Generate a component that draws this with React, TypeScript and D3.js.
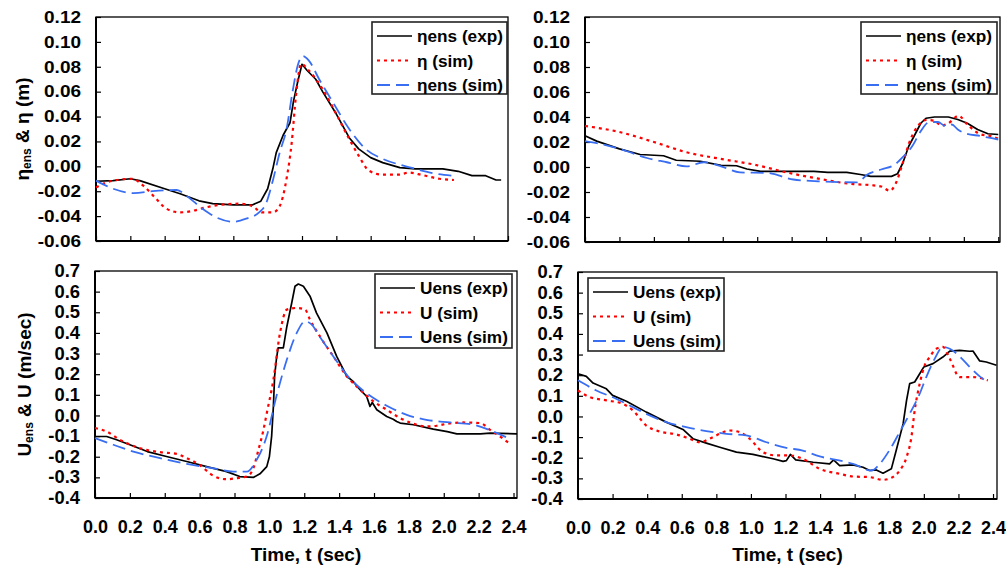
import React, { useEffect, useRef } from "react";
import * as d3 from "d3";

// time (sec), value pairs
const etaExpA: [number, number][] = [
  [0, -0.012], [0.1, -0.0115], [0.2, -0.01], [0.255, -0.0115], [0.4, -0.018], [0.49, -0.022],
  [0.6, -0.0277], [0.68, -0.03], [0.8, -0.031], [0.91, -0.031], [0.96, -0.028], [1.0, -0.018],
  [1.03, -0.002], [1.05, 0.011], [1.09, 0.025], [1.13, 0.035], [1.15, 0.052], [1.175, 0.068],
  [1.2, 0.082], [1.23, 0.077], [1.28, 0.07], [1.32, 0.06], [1.4, 0.042], [1.475, 0.023],
  [1.53, 0.014], [1.6, 0.007], [1.67, 0.003], [1.77, -0.001], [1.86, -0.002], [2.02, -0.002],
  [2.11, -0.004], [2.19, -0.0075], [2.27, -0.0075], [2.33, -0.011], [2.36, -0.011],
];
const etaSimA: [number, number][] = [
  [0, -0.017], [0.06, -0.013], [0.12, -0.011], [0.21, -0.01], [0.275, -0.0155], [0.35, -0.026],
  [0.41, -0.034], [0.49, -0.037], [0.565, -0.0357], [0.64, -0.033], [0.72, -0.031], [0.84, -0.03],
  [0.91, -0.032], [0.97, -0.037], [1.03, -0.037], [1.07, -0.032], [1.11, -0.01], [1.14, 0.019],
  [1.165, 0.057], [1.195, 0.0824], [1.24, 0.077], [1.32, 0.062], [1.4, 0.042], [1.475, 0.022],
  [1.53, 0.0086], [1.59, -0.0035], [1.67, -0.0067], [1.77, -0.0067], [1.82, -0.005], [1.9, -0.007],
  [2.0, -0.01], [2.085, -0.011],
];
const etaEnsSimA: [number, number][] = [
  [0, -0.0115], [0.1, -0.018], [0.22, -0.0215], [0.33, -0.02], [0.47, -0.019], [0.53, -0.024],
  [0.62, -0.034], [0.7, -0.041], [0.8, -0.0445], [0.875, -0.042], [0.95, -0.037], [0.99, -0.03],
  [1.03, -0.0115], [1.07, 0.011], [1.11, 0.03], [1.145, 0.06], [1.175, 0.081], [1.205, 0.0886],
  [1.24, 0.085], [1.3, 0.07], [1.38, 0.0515], [1.475, 0.03], [1.57, 0.014], [1.67, 0.006],
  [1.77, 0.0013], [1.86, -0.002], [1.96, -0.0054], [2.075, -0.0075],
];

const etaExpB: [number, number][] = [
  [0, 0.025], [0.068, 0.0207], [0.2, 0.0145], [0.32, 0.01], [0.456, 0.009], [0.53, 0.0054],
  [0.67, 0.0046], [0.79, 0.0013], [0.88, 0.001], [0.94, -0.0016], [1.02, -0.0035], [1.17, -0.0035],
  [1.33, -0.0035], [1.41, -0.0043], [1.52, -0.0043], [1.6, -0.006], [1.66, -0.0075], [1.78, -0.0075],
  [1.815, -0.0054], [1.845, 0.003], [1.88, 0.0166], [1.92, 0.027], [1.95, 0.035], [1.98, 0.039],
  [2.03, 0.04], [2.11, 0.04], [2.165, 0.038], [2.22, 0.035], [2.28, 0.03], [2.34, 0.0266], [2.4, 0.026],
];
const etaSimB: [number, number][] = [
  [0, 0.0328], [0.2, 0.028], [0.4, 0.02], [0.59, 0.0118], [0.81, 0.006], [0.98, 0.002],
  [1.17, -0.0043], [1.37, -0.0097], [1.56, -0.0137], [1.66, -0.0145], [1.72, -0.0156], [1.77, -0.019],
  [1.805, -0.013], [1.845, 0.003], [1.89, 0.022], [1.94, 0.034], [1.98, 0.0376], [2.03, 0.037],
  [2.07, 0.033], [2.11, 0.035], [2.17, 0.041], [2.22, 0.034], [2.3, 0.026], [2.36, 0.0247], [2.41, 0.022],
];
const etaEnsSimB: [number, number][] = [
  [0, 0.0207], [0.107, 0.018], [0.243, 0.0126], [0.36, 0.0072], [0.476, 0.0038], [0.59, 0.0005],
  [0.69, 0.0038], [0.79, 0.0005], [0.9, -0.0043], [1.06, -0.0048], [1.21, -0.01], [1.37, -0.0115],
  [1.58, -0.0123], [1.64, -0.006], [1.72, -0.002], [1.8, 0.002], [1.85, 0.0086], [1.9, 0.0166],
  [1.95, 0.0287], [2.0, 0.036], [2.05, 0.036], [2.09, 0.033], [2.13, 0.034], [2.165, 0.03],
  [2.2, 0.0274], [2.3, 0.0247], [2.4, 0.022],
];

const uExpA: [number, number][] = [
  [0, -0.102], [0.067, -0.102], [0.124, -0.118], [0.2, -0.142], [0.3, -0.175], [0.41, -0.199],
  [0.526, -0.223], [0.64, -0.248], [0.755, -0.272], [0.83, -0.296], [0.91, -0.3], [0.946, -0.283],
  [0.985, -0.248], [1.0, -0.2], [1.013, -0.1], [1.023, 0.044], [1.03, 0.19], [1.04, 0.27],
  [1.05, 0.327], [1.08, 0.327], [1.1, 0.43], [1.128, 0.545], [1.147, 0.626], [1.166, 0.637],
  [1.195, 0.626], [1.233, 0.578], [1.27, 0.497], [1.33, 0.4], [1.386, 0.286], [1.444, 0.19],
  [1.48, 0.165], [1.52, 0.125], [1.558, 0.092], [1.577, 0.044], [1.59, 0.063], [1.616, 0.0275],
  [1.673, -0.005], [1.71, -0.018], [1.73, -0.029], [1.75, -0.037], [1.826, -0.045], [1.94, -0.066],
  [2.02, -0.078], [2.075, -0.089], [2.21, -0.089], [2.266, -0.086], [2.42, -0.089],
];
const uSimA: [number, number][] = [
  [0, -0.061], [0.067, -0.078], [0.143, -0.118], [0.258, -0.159], [0.373, -0.178], [0.468, -0.186],
  [0.526, -0.207], [0.6, -0.24], [0.68, -0.293], [0.755, -0.309], [0.81, -0.304], [0.87, -0.296],
  [0.908, -0.256], [0.937, -0.167], [0.966, -0.07], [0.985, 0.011], [1.023, 0.173], [1.061, 0.4],
  [1.1, 0.513], [1.157, 0.521], [1.205, 0.513], [1.233, 0.464], [1.29, 0.383], [1.367, 0.286],
  [1.444, 0.19], [1.52, 0.125], [1.597, 0.068], [1.673, 0.0275], [1.75, -0.013], [1.826, -0.04],
  [1.9, -0.053], [1.96, -0.05], [2.02, -0.04], [2.113, -0.034], [2.21, -0.037], [2.266, -0.07],
  [2.323, -0.102], [2.37, -0.131],
];
const uEnsSimA: [number, number][] = [
  [0, -0.11], [0.105, -0.142], [0.22, -0.175], [0.373, -0.207], [0.526, -0.235], [0.68, -0.256],
  [0.793, -0.272], [0.87, -0.272], [0.927, -0.215], [0.985, -0.1], [1.04, 0.092], [1.1, 0.27],
  [1.157, 0.4], [1.205, 0.456], [1.243, 0.44], [1.29, 0.38], [1.367, 0.286], [1.444, 0.197],
  [1.52, 0.133], [1.597, 0.084], [1.673, 0.047], [1.788, 0.003], [1.9, -0.021], [2.036, -0.034],
  [2.17, -0.045], [2.285, -0.078], [2.37, -0.11],
];

const uExpB: [number, number][] = [
  [0, 0.207], [0.048, 0.194], [0.087, 0.162], [0.164, 0.134], [0.2, 0.102], [0.28, 0.074],
  [0.395, 0.021], [0.51, -0.0275], [0.607, -0.063], [0.665, -0.108], [0.742, -0.129], [0.82, -0.149],
  [0.916, -0.173], [1.012, -0.184], [1.128, -0.205], [1.186, -0.218], [1.205, -0.214], [1.228, -0.184],
  [1.259, -0.21], [1.36, -0.222], [1.455, -0.23], [1.478, -0.21], [1.513, -0.238], [1.59, -0.235],
  [1.648, -0.246], [1.687, -0.262], [1.725, -0.259], [1.764, -0.275], [1.812, -0.254], [1.84, -0.165],
  [1.88, -0.036], [1.9, 0.078], [1.918, 0.159], [1.947, 0.167], [1.976, 0.207], [2.0, 0.24],
  [2.053, 0.256], [2.11, 0.288], [2.15, 0.317], [2.207, 0.32], [2.265, 0.316], [2.284, 0.317],
  [2.323, 0.269], [2.361, 0.264], [2.42, 0.248],
];
const uSimB: [number, number][] = [
  [0, 0.126], [0.067, 0.094], [0.164, 0.078], [0.26, 0.061], [0.318, 0.029], [0.395, -0.044],
  [0.472, -0.073], [0.569, -0.087], [0.646, -0.108], [0.704, -0.125], [0.761, -0.108], [0.82, -0.084],
  [0.877, -0.068], [0.935, -0.076], [0.993, -0.108], [1.07, -0.173], [1.147, -0.189], [1.224, -0.189],
  [1.3, -0.205], [1.398, -0.254], [1.513, -0.278], [1.59, -0.291], [1.687, -0.294], [1.764, -0.307],
  [1.82, -0.294], [1.86, -0.262], [1.9, -0.197], [1.928, -0.1], [1.947, 0.029], [1.976, 0.159],
  [2.005, 0.248], [2.034, 0.288], [2.072, 0.328], [2.11, 0.337], [2.15, 0.28], [2.207, 0.191],
  [2.284, 0.191], [2.37, 0.175],
];
const uEnsSimB: [number, number][] = [
  [0, 0.175], [0.106, 0.126], [0.22, 0.086], [0.318, 0.045], [0.414, 0.005], [0.51, -0.0275],
  [0.626, -0.052], [0.742, -0.071], [0.858, -0.084], [0.973, -0.092], [1.09, -0.125], [1.205, -0.152],
  [1.3, -0.165], [1.398, -0.194], [1.494, -0.21], [1.59, -0.23], [1.697, -0.262], [1.745, -0.23],
  [1.8, -0.165], [1.86, -0.076], [1.918, 0.013], [1.976, 0.11], [2.014, 0.191], [2.063, 0.28],
  [2.11, 0.337], [2.15, 0.328], [2.207, 0.291], [2.265, 0.24], [2.323, 0.194], [2.37, 0.167],
];

const etaLabels = ["ηens (exp)", "η (sim)", "ηens (sim)"];
const uLabels = ["Uens (exp)", "U (sim)", "Uens (sim)"];
const etaTicks = [-0.06, -0.04, -0.02, 0, 0.02, 0.04, 0.06, 0.08, 0.1, 0.12];
const uTicks = [-0.4, -0.3, -0.2, -0.1, 0, 0.1, 0.2, 0.3, 0.4, 0.5, 0.6, 0.7];
const timeTicks = [0, 0.2, 0.4, 0.6, 0.8, 1.0, 1.2, 1.4, 1.6, 1.8, 2.0, 2.2, 2.4];

const FONT = "'Liberation Sans', Arial, Helvetica, sans-serif";
const styles = [
  { stroke: "#000", dash: "none", width: 1.7 },
  { stroke: "#ff0000", dash: "3,4", width: 2.2 },
  { stroke: "#3a6ef2", dash: "13,6", width: 1.8 },
];

function Panel(props: any) {
  const { left, right, top, bottom, xMax, yDomain, yTicks, yFmt, yFont, yStretch, series, labels, legend, showX, yTitle, yTitleX } = props;
  const xRef = useRef<SVGGElement>(null);
  const yRef = useRef<SVGGElement>(null);
  const x = d3.scaleLinear().domain([0, xMax]).range([left, right]);
  const y = d3.scaleLinear().domain(yDomain).range([bottom, top]);

  useEffect(() => {
    const xa = d3.axisBottom(x).tickValues(timeTicks).tickSizeInner(-5).tickSizeOuter(0).tickPadding(22)
      .tickFormat(showX ? (d: any) => d3.format(".1f")(d) : () => "");
    d3.select(xRef.current!).call(xa as any);
    const ya = d3.axisLeft(y).tickValues(yTicks).tickSizeInner(-5).tickSizeOuter(0).tickPadding(15)
      .tickFormat((d: any) => d3.format(yFmt)(d).replace("−", "-"));
    d3.select(yRef.current!).call(ya as any);
    [xRef, yRef].forEach(r => {
      const g = d3.select(r.current!);
      g.select(".domain").remove();
      g.selectAll("line").attr("stroke", "#000").attr("stroke-width", 1.2);
      g.selectAll("text").attr("font-family", FONT).attr("font-weight", "bold").attr("font-size", 18).attr("fill", "#000");
    });
    // the y labels in the figure are a little wider than the font
    d3.select(yRef.current!).selectAll<SVGTextElement, unknown>("text")
      .attr("font-size", yFont)
      .each(function () {
        const w = this.getComputedTextLength();
        d3.select(this).attr("textLength", w * yStretch).attr("lengthAdjust", "spacingAndGlyphs");
      });
  });

  const line = d3.line<[number, number]>().x(d => x(d[0])).y(d => y(d[1]));
  const smooth = d3.line<[number, number]>().x(d => x(d[0])).y(d => y(d[1])).curve(d3.curveMonotoneX);

  return (
    <g>
      <rect x={left} y={top} width={right - left} height={bottom - top} fill="none" stroke="#000" strokeWidth={1.3} />
      <line x1={left} x2={left} y1={top} y2={bottom} stroke="#000" strokeWidth={2} />
      <line x1={left} x2={right} y1={bottom} y2={bottom} stroke="#000" strokeWidth={2} />
      <g ref={xRef} transform={`translate(0,${bottom})`} />
      <g ref={yRef} transform={`translate(${left},0)`} />
      {series.map((s: [number, number][], i: number) => (
        <path key={i} d={(i === 0 ? line : smooth)(s) || ""} fill="none" stroke={styles[i].stroke}
          strokeDasharray={styles[i].dash} strokeWidth={styles[i].width} strokeLinejoin="round" />
      ))}
      <rect x={legend.x} y={legend.y} width={legend.w} height={legend.h} fill="#fff" stroke="#222" strokeWidth={1.6} />
      {labels.map((lab: string, i: number) => {
        const cy = legend.y + 14 + i * 24.5;
        return (
          <g key={lab}>
            <line x1={legend.x + 5} x2={legend.x + 40} y1={cy} y2={cy} stroke={styles[i].stroke}
              strokeDasharray={styles[i].dash} strokeWidth={styles[i].width} />
            <text x={legend.x + 45} y={cy + 6} fontFamily={FONT} fontWeight="bold" fontSize={17.2}>{lab}</text>
          </g>
        );
      })}
      {showX && (
        <text x={(left + right) / 2} y={561} textAnchor="middle" fontFamily={FONT} fontWeight="bold" fontSize={19}>
          Time, t (sec)
        </text>
      )}
      {yTitle && (
        <text transform={`translate(${yTitleX},${(top + bottom) / 2}) rotate(-90)`} textAnchor="middle"
          fontFamily={FONT} fontWeight="bold" fontSize={19}>
          <tspan>{yTitle[0]}</tspan>
          <tspan fontSize={12} dy={2}>ens</tspan>
          <tspan dy={-2}>{yTitle[1]}</tspan>
        </text>
      )}
    </g>
  );
}

export default function App() {
  return (
    <svg width={1006} height={567} style={{ position: "absolute", left: 0, top: 0, background: "#fff" }}>
      <Panel left={96} right={508} top={17} bottom={241} xMax={2.4} yDomain={[-0.06, 0.12]} yTicks={etaTicks}
        yFmt=".2f" yFont={16.5} yStretch={1.15} series={[etaExpA, etaSimA, etaEnsSimA]} labels={etaLabels}
        legend={{ x: 372, y: 22, w: 135, h: 72 }} showX={false} yTitle={["η", " & η (m)"]} yTitleX={29} />
      <Panel left={585} right={1000} top={17} bottom={242} xMax={2.41} yDomain={[-0.06, 0.12]} yTicks={etaTicks}
        yFmt=".2f" yFont={16.5} yStretch={1.15} series={[etaExpB, etaSimB, etaEnsSimB]} labels={etaLabels}
        legend={{ x: 861, y: 22, w: 136, h: 72 }} showX={false} />
      <Panel left={95} right={517} top={271} bottom={498} xMax={2.42} yDomain={[-0.4, 0.7]} yTicks={uTicks}
        yFmt=".1f" yFont={17.5} yStretch={1.05} series={[uExpA, uSimA, uEnsSimA]} labels={uLabels}
        legend={{ x: 375, y: 274, w: 137, h: 74 }} showX={true} yTitle={["U", " & U (m/sec)"]} yTitleX={31} />
      <Panel left={578} right={997} top={272} bottom={499} xMax={2.423} yDomain={[-0.4, 0.7]} yTicks={uTicks}
        yFmt=".1f" yFont={17.5} yStretch={1.05} series={[uExpB, uSimB, uEnsSimB]} labels={uLabels}
        legend={{ x: 588, y: 278, w: 136, h: 73 }} showX={true} />
    </svg>
  );
}
